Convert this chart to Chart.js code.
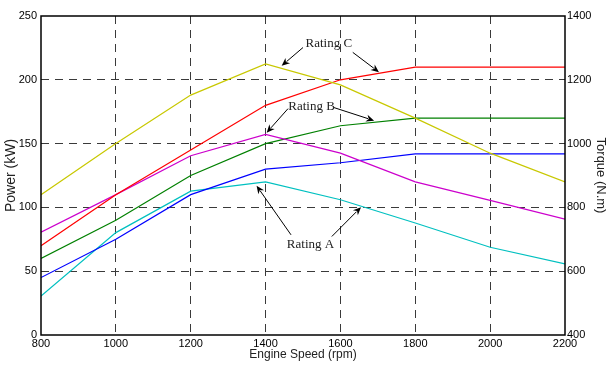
<!DOCTYPE html>
<html>
<head>
<meta charset="utf-8">
<script src="https://cdn.jsdelivr.net/npm/chart.js@4/dist/chart.umd.min.js"></script>
<style>
html,body{margin:0;padding:0;background:#fff;}
#wrap{width:608px;height:370px;position:relative;}
</style>
</head>
<body>
<div id="wrap"><canvas id="c" width="608" height="370"></canvas></div>
<script>
// Engine speed categories (rpm)
const rpm = [800, 1000, 1200, 1400, 1600, 1800, 2000, 2200];
// Power curves (kW) - left axis
const powerC = [70, 110, 145, 180, 200, 210, 210, 210];   // red
const powerB = [60, 90, 125, 150, 164, 170, 170, 170];    // green
const powerA = [45, 75, 110, 130, 135, 142, 142, 142];    // blue
// Torque curves (N.m) - right axis
const torqueC = [840, 1000, 1152, 1250, 1184, 1080, 970, 880]; // yellow
const torqueB = [722, 840, 962, 1029, 970, 880, 822, 763];     // magenta
const torqueA = [522, 721, 851, 880, 824, 751, 675, 623];      // cyan
// Axis tick settings
const xTicks = [800, 1000, 1200, 1400, 1600, 1800, 2000, 2200];
const powerTicks = [0, 50, 100, 150, 200, 250];
const torqueTicks = [400, 600, 800, 1000, 1200, 1400];

// Annotation labels, in data units (rpm, kW)
const annoLabels = ['Rating C', 'Rating B', 'Rating A'];
const annoLabelPos = [[1569, 228], [1523, 179], [1520, 71]];
const annoArrows = [
  [[1500, 225.3], [1443, 211]],
  [[1633, 221.5], [1703, 206]],
  [[1460, 177.4], [1403, 158.6]],
  [[1583, 178.2], [1690, 168]],
  [[1468, 78.5], [1376, 117]],
  [[1577, 77.2], [1655, 100.2]]
];

const pts = arr => arr.map((v, i) => ({x: rpm[i], y: v}));

function ds(label, data, color, axis) {
  return {label, data: pts(data), borderColor: color, backgroundColor: color,
    borderWidth: 1.2, pointRadius: 0, tension: 0, yAxisID: axis, fill: false};
}

const framePlugin = {
  id: 'frame',
  afterDraw(chart) {
    const {ctx, chartArea: a} = chart;
    ctx.save();
    ctx.strokeStyle = '#000';
    ctx.lineWidth = 1.5;
    ctx.setLineDash([]);
    ctx.strokeRect(a.left, a.top, a.right - a.left, a.bottom - a.top);
    ctx.restore();
  }
};

const annoPlugin = {
  id: 'anno',
  afterDatasetsDraw(chart) {
    const {ctx} = chart;
    const xs = chart.scales.x, ys = chart.scales.y;
    ctx.save();
    ctx.fillStyle = '#222';
    ctx.font = '13px "Liberation Serif", "Times New Roman", serif';
    ctx.textAlign = 'center';
    ctx.textBaseline = 'middle';
    annoLabels.forEach((t, i) => {
      ctx.fillText(t, xs.getPixelForValue(annoLabelPos[i][0]), ys.getPixelForValue(annoLabelPos[i][1]));
    });
    ctx.strokeStyle = '#000';
    ctx.fillStyle = '#000';
    ctx.lineWidth = 1;
    annoArrows.forEach(([from, to]) => {
      const x1 = xs.getPixelForValue(from[0]), y1 = ys.getPixelForValue(from[1]);
      const x2 = xs.getPixelForValue(to[0]), y2 = ys.getPixelForValue(to[1]);
      const ang = Math.atan2(y2 - y1, x2 - x1);
      const hl = 8, hw = 3.5;
      ctx.beginPath();
      ctx.moveTo(x1, y1);
      ctx.lineTo(x2 - Math.cos(ang) * hl * 0.8, y2 - Math.sin(ang) * hl * 0.8);
      ctx.stroke();
      ctx.beginPath();
      ctx.moveTo(x2, y2);
      ctx.lineTo(x2 - Math.cos(ang) * hl - Math.sin(ang) * hw, y2 - Math.sin(ang) * hl + Math.cos(ang) * hw);
      ctx.lineTo(x2 - Math.cos(ang) * hl * 0.7, y2 - Math.sin(ang) * hl * 0.7);
      ctx.lineTo(x2 - Math.cos(ang) * hl + Math.sin(ang) * hw, y2 - Math.sin(ang) * hl - Math.cos(ang) * hw);
      ctx.closePath();
      ctx.fill();
    });
    ctx.restore();
  }
};

const tickFont = {family: '"Liberation Sans Narrow", "Liberation Sans", Arial, sans-serif', size: 11};
const plain = v => String(v);

new Chart(document.getElementById('c'), {
  type: 'line',
  data: {
    datasets: [
      ds('Torque C', torqueC, '#c8c800', 'y2'),
      ds('Power C', powerC, '#ff0000', 'y'),
      ds('Torque B', torqueB, '#cc00cc', 'y2'),
      ds('Power B', powerB, '#008000', 'y'),
      ds('Power A', powerA, '#0000ff', 'y'),
      ds('Torque A', torqueA, '#00c0c0', 'y2')
    ]
  },
  options: {
    responsive: false,
    animation: false,
    layout: {padding: {top: 16, left: 0, right: 0, bottom: 0}},
    plugins: {legend: {display: false}, tooltip: {enabled: false}},
    scales: {
      x: {
        type: 'linear', min: xTicks[0], max: xTicks[xTicks.length - 1],
        afterBuildTicks: s => { s.ticks = xTicks.map(v => ({value: v})); },
        afterFit: s => { s.height = 35; },
        grid: {drawTicks: false, color: c => (c.tick && (c.tick.value === 800 || c.tick.value === 2200)) ? 'rgba(0,0,0,0)' : '#3a3a3a', lineWidth: 1},
        border: {display: false, dash: [8, 6]},
        ticks: {color: '#000', font: tickFont, padding: 2, maxRotation: 0, autoSkip: false, callback: plain},
        title: {display: true, text: 'Engine Speed (rpm)', color: '#222', font: {family: tickFont.family, size: 12}, padding: {top: 0, bottom: 8}}
      },
      y: {
        type: 'linear', position: 'left', min: 0, max: 250,
        afterBuildTicks: s => { s.ticks = powerTicks.map(v => ({value: v})); },
        afterFit: s => { s.width = 41; },
        grid: {drawTicks: false, color: c => (c.tick && (c.tick.value === 0 || c.tick.value === 250)) ? 'rgba(0,0,0,0)' : '#3a3a3a', lineWidth: 1},
        border: {display: false, dash: [8, 6]},
        ticks: {color: '#000', font: tickFont, padding: 4, callback: plain},
        title: {display: true, text: 'Power (kW)', color: '#222', font: {family: '"Liberation Sans", Arial, sans-serif', size: 14}, padding: {top: 3, bottom: 0}}
      },
      y2: {
        type: 'linear', position: 'right', min: 400, max: 1400,
        afterBuildTicks: s => { s.ticks = torqueTicks.map(v => ({value: v})); },
        afterFit: s => { s.width = 43; },
        grid: {display: false, drawTicks: false},
        border: {display: false},
        ticks: {color: '#000', font: tickFont, padding: 2, callback: plain},
        title: {display: true, text: 'Torque (N.m)', color: '#222', font: {family: '"Liberation Sans", Arial, sans-serif', size: 13}, padding: {top: 0, bottom: 0}}
      }
    }
  },
  plugins: [framePlugin, annoPlugin]
});
</script>
</body>
</html>
